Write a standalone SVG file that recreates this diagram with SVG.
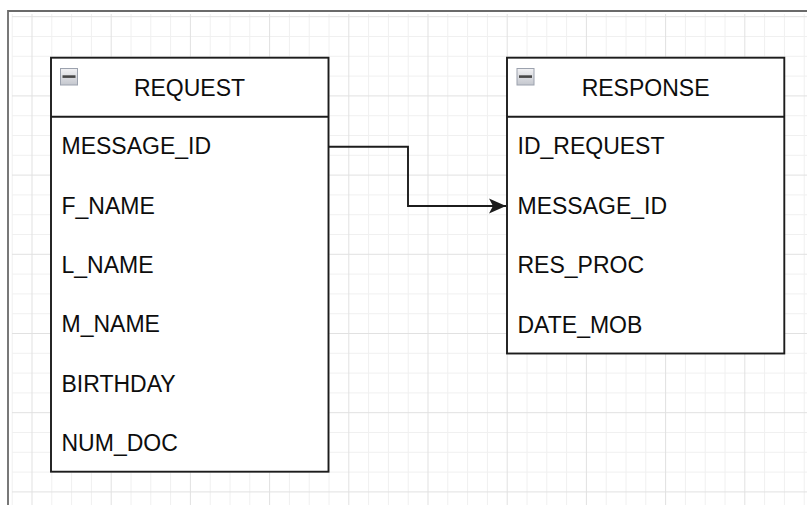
<svg xmlns="http://www.w3.org/2000/svg" width="807" height="505" viewBox="0 0 807 505">
<style>
.minor{stroke:#f0f0f0;stroke-width:1;fill:none}
.major{stroke:#e1e1e1;stroke-width:1;fill:none}
.box{fill:#fff;stroke:#1c1c1c;stroke-width:1.9}
.sep{stroke:#1c1c1c;stroke-width:1.9}
.t{font-family:"Liberation Sans",Arial,sans-serif;font-size:23px;fill:#0d0d0d}
.h{text-anchor:middle}
.icon{fill:url(#ig);stroke:#9ca2ae;stroke-width:1}
.bar{fill:#474747}
.edge{fill:none;stroke:#1c1c1c;stroke-width:1.9}
</style>
<defs>
<linearGradient id="ig" x1="0" y1="0" x2="0" y2="1">
<stop offset="0" stop-color="#f2f2f4"/>
<stop offset="1" stop-color="#c4c7ce"/>
</linearGradient>
<marker id="arr" markerUnits="userSpaceOnUse" markerWidth="22" markerHeight="20" viewBox="0 0 22 20" refX="18" refY="10" orient="auto">
<path d="M1 2.5L18 10L1 17.5L5 10Z" fill="#1c1c1c"/>
</marker>
</defs>
<rect width="807" height="505" fill="#fff"/>
<g id="grid">
<path class="minor" d="M12.2 14V505M51.8 14V505M71.6 14V505M91.4 14V505M131 14V505M150.8 14V505M170.6 14V505M210.2 14V505M230 14V505M249.8 14V505M289.4 14V505M309.2 14V505M329 14V505M368.6 14V505M388.4 14V505M408.2 14V505M447.8 14V505M467.6 14V505M487.4 14V505M527 14V505M546.8 14V505M566.6 14V505M606.2 14V505M626 14V505M645.8 14V505M685.4 14V505M705.2 14V505M725 14V505M764.6 14V505M784.4 14V505M804.2 14V505M12 36.5H807M12 56.3H807M12 76.1H807M12 115.7H807M12 135.5H807M12 155.3H807M12 194.9H807M12 214.7H807M12 234.5H807M12 274.1H807M12 293.9H807M12 313.7H807M12 353.3H807M12 373.1H807M12 392.9H807M12 432.5H807M12 452.3H807M12 472.1H807"/>
<path class="major" d="M32 14V505M111.2 14V505M190.4 14V505M269.6 14V505M348.8 14V505M428 14V505M507.2 14V505M586.4 14V505M665.6 14V505M744.8 14V505M12 16.7H807M12 95.9H807M12 175.1H807M12 254.3H807M12 333.5H807M12 412.7H807M12 491.9H807"/>
</g>
<g id="frame">
<path d="M8 505V11H807" fill="none" stroke="#6a6a6a" stroke-width="1.8"/>
</g>
<g id="request">
<rect class="box" x="51" y="57.7" width="277.5" height="414"/>
<line class="sep" x1="51" y1="116.7" x2="328.5" y2="116.7"/>
<rect class="icon" x="60.5" y="68.5" width="17" height="16.5"/>
<rect class="bar" x="62.5" y="75.3" width="13" height="2.6"/>
<text class="t h" x="189.5" y="95.5">REQUEST</text>
<text class="t" x="61.5" y="154.3">MESSAGE_ID</text>
<text class="t" x="61.5" y="213.6">F_NAME</text>
<text class="t" x="61.5" y="272.9">L_NAME</text>
<text class="t" x="61.5" y="332.2">M_NAME</text>
<text class="t" x="61.5" y="391.5">BIRTHDAY</text>
<text class="t" x="61.5" y="451.2">NUM_DOC</text>
</g>
<g id="response">
<rect class="box" x="507" y="57.7" width="277.3" height="295.8"/>
<line class="sep" x1="507" y1="116.7" x2="784.3" y2="116.7"/>
<rect class="icon" x="517" y="68.5" width="17" height="16.5"/>
<rect class="bar" x="519" y="75.3" width="13" height="2.6"/>
<text class="t h" x="645.6" y="95.5">RESPONSE</text>
<text class="t" x="517.5" y="154.3">ID_REQUEST</text>
<text class="t" x="517.5" y="213.6">MESSAGE_ID</text>
<text class="t" x="517.5" y="272.9">RES_PROC</text>
<text class="t" x="517.5" y="332.8">DATE_MOB</text>
</g>
<g id="connectors">
<path class="edge" d="M328.5 146.7H408V206H506" marker-end="url(#arr)"/>
</g>
</svg>
